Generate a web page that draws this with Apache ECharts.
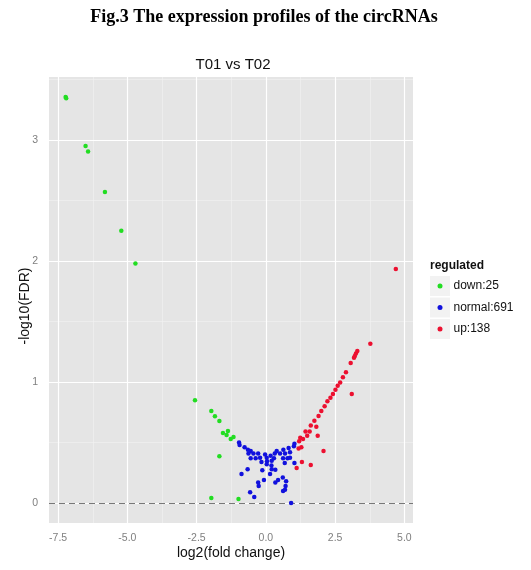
<!DOCTYPE html>
<html>
<head>
<meta charset="utf-8">
<script src="https://cdn.jsdelivr.net/npm/echarts@6/dist/echarts.min.js"></script>
<style>
html, body { margin: 0; padding: 0; background: #fff; }
#mychart { width: 531px; height: 570px; }
</style>
</head>
<body>
<div id="mychart"></div>
<script>
var domchart = document.getElementById("mychart");

// log2(fold change), -log10(FDR)
var downX = [-7.23, -7.21, -6.51, -6.42, -5.81, -5.22, -4.71, -2.56, -1.97, -1.84, -1.68, -1.55, -1.37, -1.42, -1.27, -1.17, -1.68, -1.97, -0.99];
var downY = [3.355, 3.345, 2.95, 2.905, 2.57, 2.25, 1.98, 0.85, 0.76, 0.716, 0.677, 0.579, 0.595, 0.562, 0.53, 0.546, 0.387, 0.041, 0.033];

var normalX = [-0.97, -0.95, -0.77, -0.65, -0.55, -0.63, -0.45, -0.55, -0.37, -0.28, -0.21, -0.16, -0.03, 0.03, 0.04, 0.03, 0.17, 0.21, 0.20, 0.32,
    0.29, 0.39, 0.51, 0.63, 0.69, 0.62, 0.78, 0.82, 0.87, 0.87, 0.68, 1.03, 1.01, 1.03, -0.66, -0.88, -0.13, 0.15, 0.21, 0.34,
    -0.07, -0.28, -0.26, 0.34, 0.44, 0.61, 0.73, 0.71, 0.69, 0.62, -0.57, -0.42, 0.91];
var normalY = [0.50, 0.48, 0.46, 0.44, 0.43, 0.41, 0.41, 0.37, 0.37, 0.41, 0.375, 0.34, 0.40, 0.375, 0.345, 0.32, 0.39, 0.35, 0.31, 0.41,
    0.37, 0.43, 0.41, 0.44, 0.41, 0.37, 0.37, 0.455, 0.42, 0.375, 0.33, 0.49, 0.47, 0.33, 0.28, 0.24, 0.27, 0.24, 0.28, 0.275,
    0.19, 0.17, 0.14, 0.17, 0.19, 0.21, 0.18, 0.14, 0.11, 0.10, 0.09, 0.05, 0.0];

var upX = [1.20, 1.24, 1.34, 1.43, 1.49, 1.58, 1.62, 1.75, 1.82, 1.87, 1.90, 2.00, 2.12, 2.22, 2.33, 2.42, 2.51, 2.59, 2.68, 2.78,
    2.89, 3.06, 3.18, 3.21, 3.25, 3.30, 3.77, 4.69, 3.10, 2.08, 1.30, 1.62, 1.11, 1.18, 1.28];
var upY = [0.51, 0.54, 0.53, 0.59, 0.556, 0.59, 0.64, 0.68, 0.63, 0.556, 0.72, 0.76, 0.80, 0.84, 0.87, 0.90, 0.935, 0.97, 0.996, 1.04,
    1.08, 1.157, 1.20, 1.215, 1.235, 1.256, 1.317, 1.934, 0.90, 0.43, 0.34, 0.315, 0.29, 0.45, 0.46];

var groupNames = ['down:25', 'normal:691', 'up:138'];
var groupColors = ['#22dd22', '#1111dd', '#ec1030'];

var xTicks = [-7.5, -5.0, -2.5, 0.0, 2.5, 5.0];
var xMinor = [-6.25, -3.75, -1.25, 1.25, 3.75];
var yTicks = [0, 1, 2, 3];
var yMinor = [0.5, 1.5, 2.5, 3.5];
var fdrLine = 0;

function zip(xs, ys) {
    var out = [];
    for (var i = 0; i < xs.length; i++) {
        out.push([xs[i], ys[i]]);
    }
    return out;
}

var gridLines = [];
xMinor.forEach(function (v) { gridLines.push({ xAxis: v, lineStyle: { color: '#f2f2f2', width: 0.6, type: 'solid' } }); });
yMinor.forEach(function (v) { gridLines.push({ yAxis: v, lineStyle: { color: '#f2f2f2', width: 0.6, type: 'solid' } }); });
xTicks.forEach(function (v) { gridLines.push({ xAxis: v, lineStyle: { color: '#ffffff', width: 1.2, type: 'solid' } }); });
yTicks.forEach(function (v) { gridLines.push({ yAxis: v, lineStyle: { color: '#ffffff', width: 1.2, type: 'solid' } }); });
gridLines.push({ yAxis: fdrLine, lineStyle: { color: '#555555', width: 0.8, type: [6, 4] } });

var pointData = [zip(downX, downY), zip(normalX, normalY), zip(upX, upY)];

var option = {
    animation: false,
    backgroundColor: '#ffffff',
    title: [{
        text: 'Fig.3 The expression profiles of the circRNAs',
        left: 259,
        textAlign: 'center',
        top: 3,
        textStyle: { fontFamily: 'Liberation Serif', fontWeight: 'bold', fontSize: 18, color: '#000' }
    }, {
        text: 'T01 vs T02',
        left: 228,
        textAlign: 'center',
        top: 52,
        textStyle: { fontFamily: 'Liberation Sans', fontWeight: 'normal', fontSize: 15, color: '#111' }
    }, {
        text: 'regulated',
        left: 425,
        top: 255,
        textStyle: { fontFamily: 'Liberation Sans', fontWeight: 'bold', fontSize: 12, color: '#111' }
    }],
    legend: {
        data: groupNames,
        orient: 'vertical',
        left: 437.5,
        top: 280,
        padding: 0,
        icon: 'circle',
        itemWidth: 5,
        itemHeight: 5,
        itemGap: 9.5,
        textStyle: { fontFamily: 'Liberation Sans', fontSize: 12, color: '#111', padding: [0, 0, 0, 6] }
    },
    graphic: [
        { type: 'rect', left: 430, top: 276, shape: { width: 20, height: 20 }, style: { fill: '#f2f2f2' }, z: 0 },
        { type: 'rect', left: 430, top: 297.5, shape: { width: 20, height: 20 }, style: { fill: '#f2f2f2' }, z: 0 },
        { type: 'rect', left: 430, top: 319, shape: { width: 20, height: 20 }, style: { fill: '#f2f2f2' }, z: 0 }
    ],
    grid: {
        left: 49, top: 77, width: 364, height: 446,
        show: true, backgroundColor: '#e5e5e5', borderWidth: 0
    },
    xAxis: {
        type: 'value',
        min: -7.83,
        max: 5.31,
        name: 'log2(fold change)',
        nameLocation: 'middle',
        nameGap: 23,
        nameMoveOverlap: false,
        nameTextStyle: { fontFamily: 'Liberation Sans', fontSize: 14, color: '#111' },
        axisLine: { show: false },
        axisTick: { show: true, customValues: xTicks, length: 5, lineStyle: { color: '#8a8a8a' } },
        axisLabel: {
            customValues: xTicks, margin: 10, color: '#7f7f7f', fontSize: 10.5, fontFamily: 'Liberation Sans',
            formatter: function (v) { return v.toFixed(1); }
        },
        splitLine: { show: false }
    },
    yAxis: {
        type: 'value',
        min: -0.165,
        max: 3.52,
        name: '-log10(FDR)',
        nameLocation: 'middle',
        nameRotate: 90,
        nameGap: 17,
        nameMoveOverlap: false,
        nameTextStyle: { fontFamily: 'Liberation Sans', fontSize: 14, color: '#111', padding: [0, 12, 0, 0] },
        axisLine: { show: false },
        axisTick: { show: true, customValues: yTicks, length: 5, lineStyle: { color: '#8a8a8a' } },
        axisLabel: {
            customValues: yTicks, margin: 11, color: '#7f7f7f', fontSize: 10.5, fontFamily: 'Liberation Sans',
            formatter: function (v) { return String(Math.round(v)); }
        },
        splitLine: { show: false }
    },
    series: [{
        name: 'gridlines',
        type: 'scatter',
        data: [],
        z: 1,
        silent: true,
        markLine: {
            silent: true,
            symbol: 'none',
            z: 1,
            label: { show: false },
            emphasis: { disabled: true },
            data: gridLines
        }
    }]
};

for (var g = 0; g < groupNames.length; g++) {
    option.series.push({
        name: groupNames[g],
        type: 'scatter',
        symbol: 'circle',
        symbolSize: 4.5,
        z: 5,
        itemStyle: { color: groupColors[g], opacity: 1 },
        data: pointData[g]
    });
}

var chart = echarts.init(domchart, null, { renderer: 'canvas' });
chart.setOption(option, true);
</script>
</body>
</html>
